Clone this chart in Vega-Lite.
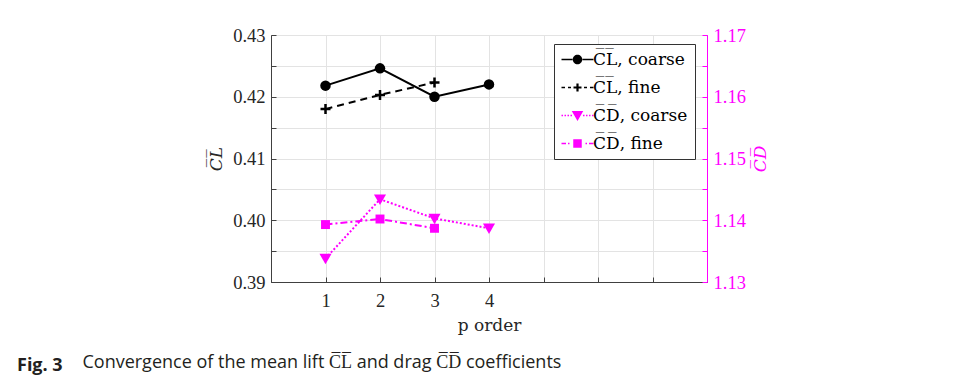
{
  "$schema": "https://vega.github.io/schema/vega-lite/v6.json",
  "width": 436,
  "height": 247,
  "autosize": {"type": "none"},
  "padding": {"left": 271, "top": 35, "right": 247, "bottom": 101},
  "background": "white",
  "data": {
    "values": [
      {"p": 1, "v": 0.4218, "s": "CL coarse"},
      {"p": 2, "v": 0.4246, "s": "CL coarse"},
      {"p": 3, "v": 0.4200, "s": "CL coarse"},
      {"p": 4, "v": 0.4220, "s": "CL coarse"},
      {"p": 1, "v": 0.4180, "s": "CL fine"},
      {"p": 2, "v": 0.4203, "s": "CL fine"},
      {"p": 3, "v": 0.4223, "s": "CL fine"},
      {"p": 1, "v": 1.1338, "s": "CD coarse"},
      {"p": 2, "v": 1.1434, "s": "CD coarse"},
      {"p": 3, "v": 1.1403, "s": "CD coarse"},
      {"p": 4, "v": 1.1387, "s": "CD coarse"},
      {"p": 1, "v": 1.1393, "s": "CD fine"},
      {"p": 2, "v": 1.1402, "s": "CD fine"},
      {"p": 3, "v": 1.1387, "s": "CD fine"}
    ]
  },
  "title": {
    "text": "Fig. 3",
    "subtitle": "\u200b\u00a0\u00a0\u00a0\u00a0\u00a0\u00a0\u00a0\u00a0\u00a0\u00a0\u00a0\u00a0\u00a0\u00a0Convergence of the mean lift C\u0305L\u0305 and drag C\u0305D\u0305 coefficients",
    "orient": "bottom",
    "anchor": "start",
    "frame": "group",
    "dx": -254,
    "offset": 23,
    "font": "Open Sans",
    "fontSize": 18,
    "fontWeight": "bold",
    "color": "#231f20",
    "subtitleFont": "Open Sans",
    "subtitleFontSize": 18,
    "subtitleColor": "#231f20",
    "subtitlePadding": -21
  },
  "layer": [
    {
      "encoding": {
        "x": {
          "field": "p", "type": "quantitative",
          "scale": {"domain": [0, 8], "nice": false, "zero": false},
          "axis": {
            "title": "p order",
            "values": [0, 1, 2, 3, 4, 5, 6, 7, 8],
            "labelExpr": "datum.value >= 1 && datum.value <= 4 ? datum.value : ''",
            "grid": true,
            "tickSize": -5,
            "labelPadding": 14,
            "titlePadding": 8
          }
        },
        "y": {
          "field": "v", "type": "quantitative",
          "scale": {"domain": [0.39, 0.43], "nice": false, "zero": false},
          "axis": {
            "title": "C\u0305L\u0305",
            "titleFontStyle": "italic",
            "values": [0.39, 0.395, 0.4, 0.405, 0.41, 0.415, 0.42, 0.425, 0.43],
            "labelExpr": "abs(datum.value * 100 - round(datum.value * 100)) < 0.01 ? format(datum.value, '.2f') : ''",
            "grid": true,
            "tickSize": -5,
            "labelPadding": 11,
            "titlePadding": 7
          }
        }
      },
      "layer": [
        {"transform": [{"filter": "datum.s == 'CL coarse'"}], "mark": {"type": "line", "color": "black", "strokeWidth": 2}, "encoding": {}},
        {"transform": [{"filter": "datum.s == 'CL fine'"}], "mark": {"type": "line", "color": "black", "strokeWidth": 2, "strokeDash": [7, 5]}, "encoding": {}},
        {"transform": [{"filter": "datum.s == 'CL coarse'"}], "mark": {"type": "point", "shape": "circle", "filled": true, "color": "black", "size": 110, "opacity": 1}},
        {"transform": [{"filter": "datum.s == 'CL fine'"}], "mark": {"type": "point", "shape": "M-1,0L1,0M0,-1L0,1", "filled": false, "color": "black", "size": 100, "strokeWidth": 2.5, "opacity": 1}},
        {
          "transform": [{"filter": "datum.s == 'CL coarse' || datum.s == 'CL fine'"}],
          "mark": {"type": "point", "filled": true, "opacity": 0},
          "encoding": {
            "color": {
              "field": "s", "type": "nominal",
              "scale": {"domain": ["CL coarse", "CL fine", "CD coarse", "CD fine"], "range": ["black", "black", "#ff00ff", "#ff00ff"]},
              "legend": {
                "title": null,
                "labelExpr": "replace(replace(datum.label, 'CL ', 'C\u0305L\u0305, '), 'CD ', 'C\u0305D\u0305, ')"
              }
            },
            "shape": {
              "field": "s", "type": "nominal",
              "scale": {
                "domain": ["CL coarse", "CL fine", "CD coarse", "CD fine"],
                "range": [
                  "M-3.2,-0.15H-1V0.15H-3.2Z M1,-0.15H3.2V0.15H1Z M-0.95,0A0.95,0.95,0,1,1,0.95,0A0.95,0.95,0,1,1,-0.95,0Z",
                  "M-3.2,-0.15H-2.5V0.15H-3.2Z M-1.9,-0.15H-1.3V0.15H-1.9Z M1.3,-0.15H1.9V0.15H1.3Z M2.5,-0.15H3.2V0.15H2.5Z M-0.8,-0.22H0.8V0.22H-0.8Z M-0.22,-0.8H0.22V0.8H-0.22Z",
                  "M-3.2,-0.15H-2.9V0.15H-3.2Z M-2.6,-0.15H-2.3V0.15H-2.6Z M-2,-0.15H-1.7V0.15H-2Z M-1.4,-0.15H-1.1V0.15H-1.4Z M1.1,-0.15H1.4V0.15H1.1Z M1.7,-0.15H2V0.15H1.7Z M2.3,-0.15H2.6V0.15H2.3Z M2.9,-0.15H3.2V0.15H2.9Z M-1.15,-0.9H1.15L0,1.1Z",
                  "M-3.2,-0.15H-2.3V0.15H-3.2Z M-1.9,-0.15H-1.6V0.15H-1.9Z M1.6,-0.15H1.9V0.15H1.6Z M2.3,-0.15H3.2V0.15H2.3Z M-0.85,-0.85H0.85V0.85H-0.85Z"
                ]
              },
              "legend": {
                "title": null,
                "labelExpr": "replace(replace(datum.label, 'CL ', 'C\u0305L\u0305, '), 'CD ', 'C\u0305D\u0305, ')"
              }
            }
          }
        }
      ]
    },
    {
      "encoding": {
        "x": {"field": "p", "type": "quantitative", "scale": {"domain": [0, 8], "nice": false, "zero": false}},
        "y": {
          "field": "v", "type": "quantitative",
          "scale": {"domain": [1.13, 1.17], "nice": false, "zero": false},
          "axis": {
            "orient": "right",
            "title": "C\u0305D\u0305",
            "titleFontStyle": "italic",
            "titleAngle": 270,
            "titleBaseline": "top",
            "values": [1.13, 1.135, 1.14, 1.145, 1.15, 1.155, 1.16, 1.165, 1.17],
            "labelExpr": "abs(datum.value * 100 - round(datum.value * 100)) < 0.01 ? format(datum.value, '.2f') : ''",
            "grid": false,
            "tickSize": -5,
            "labelPadding": 11,
            "titlePadding": 7,
            "domainColor": "#ff00ff",
            "tickColor": "#ff00ff",
            "labelColor": "#ff00ff",
            "titleColor": "#ff00ff"
          }
        }
      },
      "layer": [
        {"transform": [{"filter": "datum.s == 'CD coarse'"}], "mark": {"type": "line", "color": "#ff00ff", "strokeWidth": 2, "strokeDash": [2, 2]}, "encoding": {}},
        {"transform": [{"filter": "datum.s == 'CD fine'"}], "mark": {"type": "line", "color": "#ff00ff", "strokeWidth": 2, "strokeDash": [7, 3, 2, 3]}, "encoding": {}},
        {"transform": [{"filter": "datum.s == 'CD coarse'"}], "mark": {"type": "point", "shape": "M-1.15,-0.9H1.15L0,1.1Z", "filled": true, "color": "#ff00ff", "size": 110, "opacity": 1}},
        {"transform": [{"filter": "datum.s == 'CD fine'"}], "mark": {"type": "point", "shape": "square", "filled": true, "color": "#ff00ff", "size": 80, "opacity": 1}}
      ]
    }
  ],
  "resolve": {"scale": {"y": "independent"}},
  "config": {
    "view": {"stroke": "#404040", "strokeWidth": 1},
    "axis": {
      "labelFont": "Liberation Serif",
      "labelFontSize": 18.5,
      "labelColor": "#262626",
      "titleFont": "DejaVu Serif",
      "titleFontSize": 17,
      "titleFontWeight": "normal",
      "titleColor": "#262626",
      "domainColor": "#404040",
      "tickColor": "#404040",
      "gridColor": "#e3e3e3",
      "gridWidth": 1,
      "zindex": 1
    },
    "legend": {
      "orient": "none",
      "legendX": 283,
      "legendY": 9,
      "padding": 7,
      "strokeColor": "#333333",
      "fillColor": "white",
      "labelFont": "DejaVu Serif",
      "labelFontSize": 17,
      "labelColor": "black",
      "labelLimit": 300,
      "symbolSize": 100,
      "symbolStrokeWidth": 0,
      "symbolOpacity": 1,
      "symbolOffset": 8,
      "labelOffset": 7,
      "rowPadding": 10
    }
  }
}
